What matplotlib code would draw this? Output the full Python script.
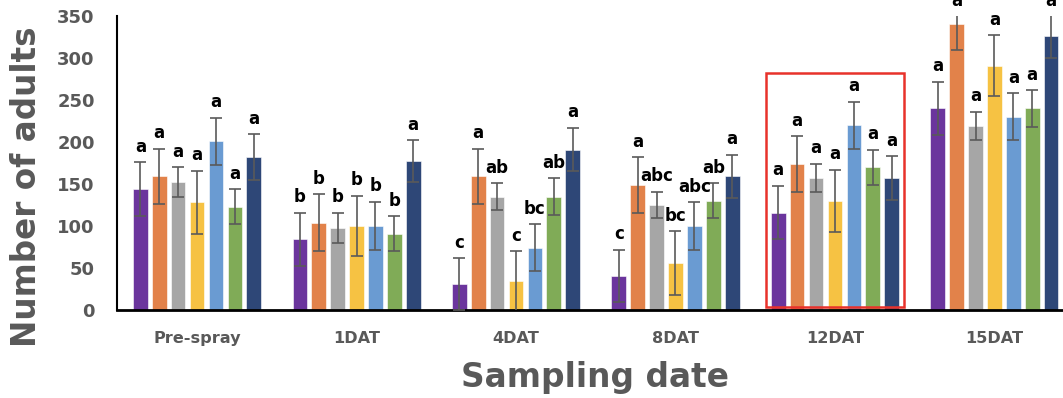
import matplotlib
matplotlib.use("Agg")
import matplotlib.pyplot as plt
from matplotlib.patches import Rectangle
import numpy as np

dates = ["Pre-spray", "1DAT", "4DAT", "8DAT", "12DAT", "15DAT"]

t1 = [144, 84, 31, 41, 116, 240]
t2 = [159, 104, 159, 149, 174, 341]
t3 = [152, 98, 135, 125, 157, 219]
t4 = [128, 100, 34, 56, 130, 291]
t5 = [201, 100, 74, 100, 220, 230]
t6 = [123, 91, 135, 130, 170, 240]
t7 = [182, 177, 191, 159, 157, 326]

e1 = [32, 32, 31, 31, 32, 32]
e2 = [33, 34, 33, 33, 33, 32]
e3 = [18, 18, 16, 16, 17, 17]
e4 = [38, 36, 36, 38, 37, 36]
e5 = [28, 29, 28, 28, 28, 28]
e6 = [21, 21, 22, 21, 21, 22]
e7 = [27, 25, 26, 26, 26, 26]

l1 = ["a", "b", "c", "c", "a", "a"]
l2 = ["a", "b", "a", "a", "a", "a"]
l3 = ["a", "b", "ab", "abc", "a", "a"]
l4 = ["a", "b", "c", "bc", "a", "a"]
l5 = ["a", "b", "bc", "abc", "a", "a"]
l6 = ["a", "b", "ab", "ab", "a", "a"]
l7 = ["a", "a", "a", "a", "a", "a"]

series = [t1, t2, t3, t4, t5, t6, t7]
errors = [e1, e2, e3, e4, e5, e6, e7]
letters = [l1, l2, l3, l4, l5, l6, l7]
colors = ["#6B359D", "#E2824A", "#A6A6A6", "#F6C243", "#6A9BD2", "#80AB57", "#2E4777"]

TXT = "#595959"
fig = plt.figure(figsize=(10.63, 3.98), dpi=100)
ax = fig.add_axes([117/1063, 1 - 310/398, 1 - 117/1063, (310 - 16)/398])

x = np.arange(len(dates))
pitch = 0.1185
width = 0.092
YMAX = 350
for j, (vals, errs, labs, c) in enumerate(zip(series, errors, letters, colors)):
    xs = x + (j - 3) * pitch
    ax.bar(xs, vals, width=width, color=c, edgecolor="white", linewidth=0.4, zorder=2)
    ax.errorbar(xs, vals, yerr=errs, fmt="none", ecolor="#5A5A5A", elinewidth=1.2,
                capsize=4, capthick=1.2, zorder=3)
    for xi, v, er, lb in zip(xs, vals, errs, labs):
        ytop = min(v + er, YMAX)
        ax.annotate(lb, (xi, ytop), xytext=(0, 7.5), textcoords="offset points",
                    ha="center", va="baseline", fontsize=12, fontweight="bold",
                    color="black", annotation_clip=False, zorder=4)

ax.set_ylim(0, YMAX)
ax.set_xlim(-0.502, 5.43)
ax.set_yticks([0, 50, 100, 150, 200, 250, 300, 350])
ax.set_xticks(x)
ax.set_xticklabels(dates)
ax.tick_params(axis="y", length=0, pad=16, labelsize=13, labelcolor=TXT)
ax.tick_params(axis="x", length=0, pad=15, labelsize=11.6, labelcolor=TXT)
for t in ax.get_yticklabels() + ax.get_xticklabels():
    t.set_fontweight("bold")
ax.spines["top"].set_visible(False)
ax.spines["right"].set_visible(False)
ax.spines["left"].set_linewidth(1.5)
ax.spines["bottom"].set_linewidth(2)

ax.add_patch(Rectangle((3.566, 3.2), 4.433 - 3.566, 282.5 - 3.2, fill=False,
                       edgecolor="#E8322B", linewidth=1.8, clip_on=False, zorder=5))

fig.text(26.5/1063, 1 - 186.5/398, "Number of adults", rotation=90, ha="center",
         va="center", fontsize=23.5, fontweight="bold", color=TXT)
fig.text(595/1063, 1 - 387/398, "Sampling date", ha="center", va="baseline",
         fontsize=23.7, fontweight="bold", color=TXT)

fig.savefig("out.png", dpi=100)
